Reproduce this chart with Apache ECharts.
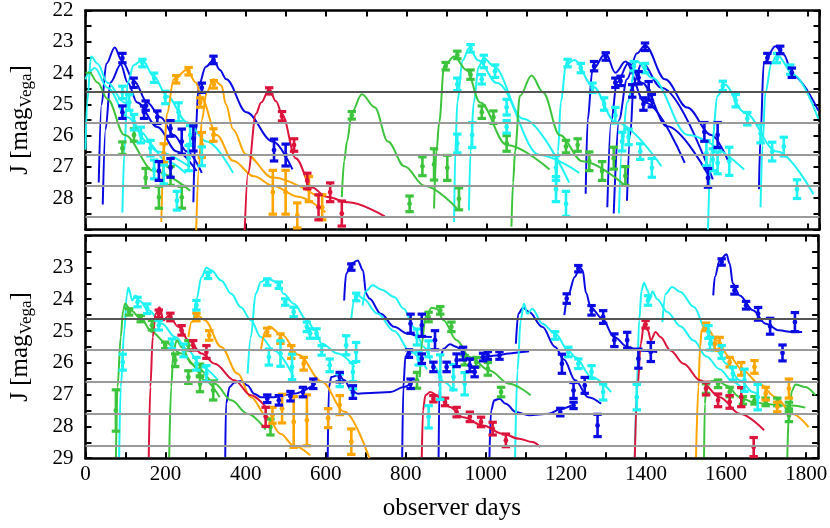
<!DOCTYPE html>
<html>
<head>
<meta charset="utf-8">
<script src="https://cdn.jsdelivr.net/npm/echarts@6/dist/echarts.min.js"></script>
<style>
  html, body { margin: 0; padding: 0; background: #fff; }
  #chart { width: 830px; height: 528px; }
</style>
</head>
<body>
<div id="chart"></div>
<script>
// colours of the five objects
const BLUE = '#0a0ae2', CYAN = '#1ef2f2', GREEN = '#3cc43c', ORANGE = '#ffa500', RED = '#dc143c';

// horizontal reference magnitudes
const refLines = [24.6, 25.6, 26.6, 27.6, 28.6];

// ---------- top panel: model light curves [day, mag] ----------
const topBlueCurves = [
  [[33,27.5],[40,25.0],[52,23.7],[73,23.18],[90,23.6],[121,24.25],[154,24.94],[187,25.41],[220,25.98],[253,26.51],[290,27.19]],
  [[43,28.2],[50,25.8],[62,24.3],[88,23.73],[105,24.3],[129,24.94],[179,25.72],[228,26.51],[277,27.13]],
  [[269,28.13],[274,26.0],[282,24.41],[300,23.8],[319,23.58],[335,23.9],[351,24.2],[401,25.25],[467,26.19],[516,27.08]],
  [[1247,27.86],[1252,25.5],[1264,23.89],[1297,23.37],[1321,23.99],[1346,23.63],[1395,24.94],[1494,26.87]],
  [[1301,28.29],[1310,25.6],[1325,24.3],[1354,23.68],[1387,24.31],[1450,25.7],[1552,27.24]],
  [[1317,28.49],[1330,25.5],[1350,24.2],[1375,23.37],[1395,23.11],[1445,24.2],[1500,25.1],[1560,25.98],[1601,26.77]],
  [[1350,28.08],[1358,26.0],[1367,24.31],[1387,23.68],[1436,24.47],[1564,27.4]],
  [[1679,27.71],[1683,26.0],[1691,23.68],[1720,23.14],[1740,23.4],[1765,24.1],[1827,25.2]]
];
const topCyanCurves = [
  [[0,26.45],[4,24.94],[14,23.47],[30,23.7],[55,24.31],[97,24.94],[138,25.88],[179,26.51],[260,27.0]],
  [[0,24.2],[10,23.95],[23,23.84],[55,24.47],[105,25.41],[154,26.2],[203,26.83],[250,27.2]],
  [[92,28.46],[97,26.5],[105,24.31],[120,23.75],[142,23.58],[170,24.1],[203,24.73],[253,25.57],[302,26.19],[368,27.19]],
  [[919,28.76],[922,26.5],[927,24.94],[940,23.6],[956,23.21],[980,23.6],[1025,24.31],[1132,26.62],[1231,27.19]],
  [[956,28.39],[960,26.5],[968,24.94],[980,23.8],[993,23.52],[1017,23.77],[1091,25.46],[1206,27.5]],
  [[1173,28.08],[1178,26.5],[1185,24.94],[1198,23.73],[1219,23.58],[1264,24.41],[1321,25.56],[1436,26.98]],
  [[1330,28.49],[1337,26.5],[1350,24.94],[1375,23.62],[1412,24.15],[1502,25.98],[1642,27.08]],
  [[1552,29.0],[1560,26.51],[1576,24.73],[1593,24.36],[1642,25.25],[1724,26.51],[1815,27.87]],
  [[1683,28.29],[1688,26.3],[1695,24.62],[1710,23.7],[1724,23.42],[1765,24.05],[1827,25.46]]
];
const topGreenCurves = [
  [[0,23.99],[10,23.99],[30,24.3],[55,24.83],[97,25.98],[171,27.13],[261,27.76]],
  [[639,27.97],[645,26.8],[652,26.19],[664,25.25],[689,24.68],[721,25.09],[754,26.19],[795,26.98],[845,27.6],[927,28.34]],
  [[869,28.33],[875,26.5],[882,25.56],[894,23.78],[919,23.47],[950,23.9],[984,24.94],[1050,26.3],[1157,27.08]],
  [[1062,28.91],[1066,27.5],[1071,26.51],[1083,24.73],[1112,24.08],[1141,24.62],[1182,25.98],[1239,26.82],[1346,27.6]]
];
const topOrangeCurves = [
  [[189,28.76],[196,26.5],[203,25.3],[220,24.2],[253,23.89],[275,24.3],[290,24.83],[327,25.98],[368,26.8],[420,27.3],[467,27.6],[530,27.95],[598,28.45]],
  [[276,29.02],[283,27.0],[290,25.5],[302,24.62],[319,24.2],[339,24.4],[350,25.0],[368,25.8],[400,26.6],[467,27.34],[581,27.97]]
];
const topRedCurves = [
  [[397,29.02],[405,27.2],[425,25.3],[438,24.94],[458,24.52],[475,24.9],[491,25.35],[524,26.72],[565,27.66],[600,27.95],[655,28.13],[746,28.58]]
];

// ---------- top panel: photometry [day, mag, error] ----------
const topBluePoints = [
  [92,23.52,0.15],[120,24.31,0.15],[150,25.04,0.15],[179,25.41,0.2],[212,25.77,0.25],[240,26.19,0.4],[269,26.09,0.4],
  [92,25.25,0.2],[146,25.25,0.2],[183,27.13,0.3],[212,27.03,0.3],[319,23.58,0.12],[290,24.47,0.15],[470,26.46,0.35],[499,26.62,0.35],
  [1268,23.78,0.15],[1297,23.47,0.12],[1321,24.31,0.15],[1334,24.25,0.15],[1363,24.57,0.2],[1379,24.15,0.2],[1395,23.16,0.12],
  [1391,24.99,0.2],[1404,24.57,0.3],[1412,24.88,0.2],[1543,25.88,0.3],[1576,25.98,0.4],[1552,27.35,0.3],
  [1700,23.52,0.15],[1732,23.26,0.12],[1761,23.99,0.15]
];
const topCyanPoints = [
  [92,24.62,0.2],[109,24.94,0.25],[142,23.68,0.12],[171,24.15,0.15],[199,24.78,0.2],[232,25.25,0.3],[121,25.57,0.25],
  [138,25.98,0.25],[162,26.4,0.25],[171,27.08,0.3],[195,27.24,0.3],[228,28.08,0.3],[257,26.72,0.4],[290,26.66,0.3],[261,25.98,0.3],
  [927,24.36,0.2],[927,26.25,0.3],[964,25.98,0.4],[960,23.21,0.12],[988,24.2,0.15],[993,23.63,0.2],[1021,23.94,0.2],
  [1050,25.09,0.25],[1050,25.72,0.2],[1173,27.03,0.4],[1173,27.71,0.4],[1198,28.18,0.4],[1202,23.68,0.12],[1235,23.84,0.15],
  [1264,24.47,0.15],[1293,24.99,0.2],[1321,25.35,0.25],[1338,26.19,0.3],[1354,26.04,0.25],[1367,23.78,0.15],[1395,23.84,0.15],
  [1383,26.51,0.25],[1412,27.03,0.3],[1548,26.56,0.4],[1564,26.77,0.35],[1576,26.87,0.35],[1605,26.82,0.45],[1589,24.41,0.15],
  [1621,24.88,0.2],[1650,25.46,0.2],[1683,25.93,0.3],[1712,26.51,0.3],[1741,26.35,0.3],[1774,27.71,0.3],[1724,23.52,0.15],[1757,23.89,0.15]
];
const topGreenPoints = [
  [92,26.4,0.2],[121,25.98,0.2],[150,27.35,0.3],[183,27.97,0.35],[212,27.29,0.3],[240,27.97,0.35],[664,25.35,0.12],
  [808,28.18,0.25],[840,26.98,0.3],[869,26.92,0.5],[902,27.03,0.4],[931,28.02,0.35],[898,23.78,0.12],[927,23.42,0.12],
  [960,24.05,0.15],[988,25.25,0.2],[1017,25.41,0.2],[1050,26.25,0.25],[1198,26.35,0.2],[1227,26.3,0.2],[1256,26.82,0.3],
  [1288,27.13,0.3],[1317,26.72,0.35],[1346,27.29,0.3]
];
const topOrangePoints = [
  [226,24.2,0.12],[257,23.94,0.12],[286,24.94,0.15],[290,26.3,0.4],[319,25.98,0.2],[320,24.36,0.12],[195,26.56,0.3],
  [467,27.81,0.7],[499,27.81,0.7],[528,28.55,0.4],[557,27.71,0.4],[590,28.29,0.4]
];
const topRedPoints = [
  [458,24.57,0.1],[490,25.38,0.15],[520,26.3,0.2],[553,27.45,0.25],[581,28.29,0.4],[610,27.81,0.3],[639,28.49,0.4]
];

// ---------- bottom panel: model light curves ----------
const botBlueCurves = [
  [[349,28.96],[351,27.29],[360,26.76],[372,26.62],[388,26.57],[405,26.71],[421,26.97],[438,27.08],[471,27.08],[520,26.97],[575,26.65]],
  [[605,28.96],[608,26.76],[614,26.45],[631,26.39],[647,26.55],[664,26.87],[680,26.97],[713,26.95],[762,26.92],[795,26.76],[812,26.66]],
  [[791,28.96],[794,26.76],[799,25.82],[808,25.62],[825,25.6]],
  [[646,24.04],[651,23.2],[664,22.88],[680,22.78],[693,23.09],[701,23.83],[709,23.98],[738,24.46],[771,24.87],[804,25.08],[836,25.17],[865,25.19]],
  [[882,28.96],[884,26.76],[887,25.82],[894,25.56],[910,25.42],[927,25.5],[943,25.66],[960,25.92],[993,25.82],[1025,25.77],[1058,25.71],[1091,25.66],[1108,25.64]],
  [[1009,28.96],[1013,27.5],[1021,27.18],[1034,27.13],[1050,27.29],[1075,27.55],[1108,27.65],[1157,27.6],[1190,27.44],[1214,27.34]],
  [[1075,25.4],[1081,24.46],[1093,24.27],[1108,24.4],[1141,24.87],[1173,25.5],[1195,25.9],[1223,26.55],[1256,27.08],[1288,27.29]],
  [[1196,24.5],[1206,23.85],[1222,23.3],[1235,23.0],[1242,23.1],[1250,23.8],[1262,24.25],[1290,24.6],[1321,25.2],[1354,25.5],[1387,25.62],[1428,25.66]],
  [[1568,23.88],[1572,23.3],[1584,22.78],[1601,22.59],[1609,22.88],[1617,23.51],[1634,23.88],[1667,24.35],[1699,24.77],[1732,24.98],[1765,25.03],[1790,25.03]]
];
const botCyanCurves = [
  [[84,28.96],[88,26.76],[97,24.98],[103,23.88],[107,23.64],[117,24.04],[125,23.88],[134,24.04],[158,24.35],[191,24.77],[224,25.19],[257,25.61],[290,26.13],[331,26.55]],
  [[270,24.7],[277,24.0],[290,23.3],[302,23.01],[314,23.09],[339,23.41],[364,23.83],[388,24.25],[413,24.66],[438,25.19],[471,25.61],[520,26.45]],
  [[405,26.34],[413,25.19],[425,23.83],[438,23.46],[454,23.35],[479,23.46],[495,23.83],[520,24.14],[553,24.66],[573,24.98],[590,25.4],[631,25.71],[672,26.13]],
  [[664,24.6],[672,24.0],[680,23.87],[693,23.98],[730,24.46],[771,25.0],[812,25.66],[853,26.2]],
  [[692,24.2],[700,23.75],[717,23.56],[740,23.7],[771,23.93],[795,24.3],[820,24.88],[845,25.5],[870,26.1],[895,26.6],[920,26.9]],
  [[1073,28.96],[1079,26.24],[1087,24.66],[1095,24.14],[1104,24.46],[1116,24.3],[1141,24.77],[1173,25.08],[1206,25.61],[1223,25.82],[1264,26.45],[1313,26.92]],
  [[1372,28.96],[1377,26.76],[1383,24.66],[1389,23.72],[1395,23.48],[1404,23.72],[1410,24.0],[1416,23.75],[1428,24.0],[1453,24.4],[1486,24.85],[1519,25.3],[1551,25.8],[1584,26.2],[1617,26.6],[1650,26.95]],
  [[1441,24.72],[1449,23.83],[1465,23.62],[1486,23.77],[1519,24.24],[1551,24.98],[1576,25.61],[1601,26.03],[1634,26.55],[1667,26.92],[1680,27.0]]
];
const botGreenCurves = [
  [[76,28.96],[80,26.76],[88,25.19],[94,24.35],[99,24.14],[113,24.35],[138,24.61],[166,25.03],[199,25.35],[240,25.71],[282,26.18],[323,26.66],[364,27.18],[405,27.6],[450,28.1]],
  [[209,28.96],[214,26.76],[220,25.61],[228,25.29],[240,25.5],[265,26.03],[298,26.55],[335,27.08]],
  [[835,26.45],[840,25.4],[849,24.56],[865,24.27],[877,24.3],[894,24.66],[927,25.29],[960,25.82],[1009,26.24],[1058,26.66],[1112,27.02]],
  [[1545,28.96],[1547,27.29],[1551,26.66],[1564,26.57],[1576,26.55],[1601,26.71],[1634,27.08],[1667,27.23],[1699,27.29],[1732,27.34],[1765,27.34],[1798,27.41]],
  [[1753,28.96],[1757,27.5],[1765,26.87],[1773,26.68],[1798,26.76],[1823,27.02]]
];
const botOrangeCurves = [
  [[257,25.19],[265,24.72],[277,24.48],[298,24.66],[339,25.5],[380,26.34],[413,27.08],[454,27.7],[487,28.23],[520,28.6],[561,28.91]],
  [[438,25.6],[450,25.0],[458,24.86],[491,25.12],[532,25.75],[590,26.59],[647,27.54],[709,29.0]],
  [[1525,28.96],[1531,26.76],[1535,25.5],[1539,24.98],[1545,24.85],[1556,24.98],[1576,25.29],[1609,25.82],[1642,26.24],[1683,26.66],[1724,27.08],[1765,27.6],[1806,28.02]]
];
const botRedCurves = [
  [[158,28.96],[162,26.76],[168,25.19],[175,24.46],[185,24.25],[195,24.66],[208,24.51],[232,24.87],[257,25.29],[290,25.71],[323,26.03],[372,26.55],[413,27.02],[450,27.39]],
  [[840,28.96],[843,27.5],[849,27.02],[861,26.92],[886,27.08],[910,27.39],[943,27.71],[993,27.97],[1042,28.23],[1083,28.39],[1116,28.49],[1136,28.65]],
  [[1372,28.96],[1379,26.76],[1387,25.4],[1395,24.77],[1405,24.98],[1412,25.29],[1424,25.03],[1436,25.19],[1461,25.61],[1494,26.03],[1535,26.55],[1584,27.08],[1634,27.6],[1695,28.12]]
];

// ---------- bottom panel: photometry ----------
const botBluePoints = [
  [454,27.13,0.12],[483,27.18,0.15],[512,27.05,0.15],[543,26.92,0.15],[569,26.66,0.15],[635,26.45,0.15],[668,26.92,0.2],[664,22.99,0.1],
  [812,24.77,0.3],[840,24.82,0.35],[873,25.29,0.3],[808,25.71,0.12],[840,25.87,0.15],[869,26.13,0.15],[812,26.66,0.15],[902,26.13,0.15],
  [927,25.92,0.2],[943,25.71,0.2],[960,26.08,0.2],[972,26.29,0.15],[993,25.82,0.12],[1005,25.77,0.12],[1034,25.77,0.12],[1186,27.55,0.12],
  [1190,26.03,0.3],[1202,23.98,0.15],[1231,23.04,0.1],[1264,24.35,0.15],[1293,24.56,0.2],[1321,25.29,0.2],[1353,25.29,0.25],[1381,25.87,0.3],
  [1412,25.66,0.3],[1219,26.87,0.25],[1247,26.71,0.25],[1219,27.34,0.1],[1279,27.97,0.35],[1589,22.83,0.1],[1621,23.72,0.12],[1650,24.19,0.12],
  [1680,24.46,0.2],[1710,24.85,0.25],[1772,24.72,0.3],[1741,25.69,0.25]
];
const botCyanPoints = [
  [93,25.98,0.25],[130,24.09,0.15],[154,24.3,0.15],[183,24.82,0.15],[216,25.4,0.15],[245,25.61,0.2],[277,24.19,0.15],[306,23.25,0.1],
  [277,26.03,0.2],[302,26.34,0.25],[454,23.46,0.1],[483,23.56,0.1],[499,24.09,0.1],[520,24.4,0.15],[553,24.87,0.15],[561,25.08,0.15],
  [458,25.82,0.25],[487,25.71,0.4],[516,26.13,0.4],[577,25.08,0.15],[590,25.61,0.15],[610,26.08,0.2],[635,26.55,0.2],[668,26.29,0.3],
  [668,26.97,0.15],[651,25.45,0.3],[676,25.66,0.3],[676,23.93,0.12],[828,25.19,0.25],[857,25.56,0.25],[832,25.87,0.2],[886,26.45,0.7],
  [919,26.45,0.4],[947,26.66,0.35],[857,27.7,0.35],[1173,25.14,0.12],[1206,25.66,0.15],[1231,26.03,0.15],[1264,26.29,0.2],[1293,26.92,0.25],
  [1377,27.08,0.4],[1405,24.04,0.15],[1556,25.03,0.2],[1560,25.4,0.2],[1589,25.66,0.2],[1617,26.34,0.2],[1646,26.55,0.35],[1679,27.08,0.4]
];
const botGreenPoints = [
  [76,27.5,0.65],[109,24.4,0.1],[138,24.61,0.1],[166,24.82,0.15],[199,25.45,0.1],[224,25.92,0.2],[257,26.45,0.2],[286,26.24,0.2],
  [286,26.66,0.25],[319,26.87,0.3],[257,25.45,0.15],[462,28.02,0.25],[857,24.56,0.15],[886,24.35,0.12],[914,24.87,0.15],[947,25.92,0.15],
  [976,25.98,0.15],[1005,26.19,0.2],[828,26.55,0.25],[1038,26.92,0.15],[1550,26.81,0.15],[1580,26.66,0.12],[1609,26.92,0.15],
  [1642,27.18,0.12],[1671,27.18,0.12],[1699,27.23,0.12],[1728,27.23,0.12],[1757,27.39,0.15],[1757,27.65,0.2]
];
const botOrangePoints = [
  [277,24.56,0.12],[309,25.14,0.15],[454,25.03,0.12],[487,25.24,0.15],[514,25.66,0.2],[545,26.03,0.2],[467,27.65,0.25],[491,27.44,0.45],
  [520,27.86,0.8],[553,27.81,0.8],[606,27.74,0.3],[635,27.33,0.3],[664,28.48,0.4],[1550,24.87,0.12],[1572,25.4,0.2],[1584,25.4,0.2],
  [1609,25.98,0.15],[1638,26.19,0.2],[1671,26.13,0.2],[1699,26.97,0.2],[1728,27.39,0.15],[1757,26.81,0.3]
];
const botRedPoints = [
  [183,24.46,0.12],[212,24.56,0.12],[240,24.98,0.15],[269,25.45,0.15],[302,25.66,0.2],[450,27.7,0.3],[869,27.13,0.1],[898,27.23,0.12],
  [927,27.55,0.15],[960,27.7,0.15],[988,27.86,0.15],[1017,28.07,0.2],[1050,28.44,0.2],[1399,24.79,0.12],[1550,26.81,0.2],[1580,27.18,0.2],
  [1609,27.23,0.2],[1638,27.08,0.3],[1669,28.65,0.3]
];

const FONT = '"Liberation Serif", "DejaVu Serif", serif';
const numStyle = { n: { fontFamily: FONT, fontSize: 21, color: '#000' } };

function curveSeries(list, color, panel) {
  return list.map(d => ({
    type: 'line', xAxisIndex: panel * 2, yAxisIndex: panel * 2,
    data: d, showSymbol: false, smooth: 0.35, smoothMonotone: 'x',
    lineStyle: { color: color, width: 2 }, z: 2, silent: true
  }));
}

function renderErr(params, api) {
  const x = api.value(0), y = api.value(1), e = api.value(2);
  const p = api.coord([x, y]);
  const t = api.coord([x, y - e]);
  const b = api.coord([x, y + e]);
  const c = api.visual('color');
  return {
    type: 'group',
    children: [
      { type: 'line', shape: { x1: p[0], y1: t[1], x2: p[0], y2: b[1] }, style: { stroke: c, lineWidth: 2.6 } },
      { type: 'rect', shape: { x: p[0] - 4.2, y: t[1] - 1.6, width: 8.4, height: 3.2 }, style: { fill: c } },
      { type: 'rect', shape: { x: p[0] - 4.2, y: b[1] - 1.6, width: 8.4, height: 3.2 }, style: { fill: c } },
      { type: 'circle', shape: { cx: p[0], cy: p[1], r: 2.4 }, style: { fill: c } }
    ]
  };
}

function pointSeries(pts, color, panel) {
  return {
    type: 'custom', xAxisIndex: panel * 2, yAxisIndex: panel * 2,
    data: pts, renderItem: renderErr, itemStyle: { color: color },
    encode: { x: 0, y: 1 }, z: 3, silent: true, clip: false
  };
}

function refSeries(panel) {
  return {
    type: 'line', xAxisIndex: panel * 2, yAxisIndex: panel * 2,
    data: [], z: 1, silent: true,
    markLine: {
      silent: true, symbol: 'none', label: { show: false }, animation: false,
      data: refLines.map(v => ({ yAxis: v, lineStyle: { color: v === 24.6 ? '#555' : '#9a9a9a', width: 2, type: 'solid' } }))
    }
  };
}

const frame = { onZero: false, lineStyle: { color: '#000', width: 2.6 } };
const ticks = { inside: true, length: 6, lineStyle: { color: '#000', width: 2 } };

function xAxis(grid, pos, labels) {
  return {
    type: 'value', gridIndex: grid, position: pos, min: 0, max: 1830, interval: 100,
    axisLine: frame, axisTick: ticks, splitLine: { show: false },
    axisLabel: {
      show: labels, margin: 6, color: '#000', fontFamily: FONT, fontSize: 21, rich: numStyle,
      formatter: v => (v % 200 === 0 ? '{n|' + v + '}' : ''), showMaxLabel: false
    },
    name: labels ? 'observer days' : '', nameLocation: 'middle', nameGap: 38,
    nameTextStyle: { fontFamily: FONT, fontSize: 25, color: '#000' }
  };
}

function yAxis(grid, pos, hide, named) {
  return {
    type: 'value', gridIndex: grid, position: pos, min: 22, max: 29, interval: 0.5, inverse: true,
    axisLine: frame, axisTick: ticks, splitLine: { show: false },
    axisLabel: {
      show: pos === 'left', margin: 12, color: '#000', fontFamily: FONT, fontSize: 21, rich: numStyle,
      formatter: v => (Number.isInteger(v) && v !== hide ? '{n|' + v + '}' : '')
    },
    name: named ? '{t|J [mag}{s|Vega}{t|]}' : '', nameLocation: 'middle', nameRotate: 90, nameGap: 50,
    nameTextStyle: {
      color: '#000',
      rich: {
        t: { fontFamily: FONT, fontSize: 25, color: '#000', lineHeight: 30, verticalAlign: 'middle' },
        s: { fontFamily: FONT, fontSize: 17, color: '#000', verticalAlign: 'bottom', lineHeight: 18 }
      }
    }
  };
}

const series = [].concat(
  refSeries(0), refSeries(1),
  curveSeries(topBlueCurves, BLUE, 0), curveSeries(topCyanCurves, CYAN, 0), curveSeries(topGreenCurves, GREEN, 0),
  curveSeries(topOrangeCurves, ORANGE, 0), curveSeries(topRedCurves, RED, 0),
  curveSeries(botBlueCurves, BLUE, 1), curveSeries(botCyanCurves, CYAN, 1), curveSeries(botGreenCurves, GREEN, 1),
  curveSeries(botOrangeCurves, ORANGE, 1), curveSeries(botRedCurves, RED, 1),
  pointSeries(topGreenPoints, GREEN, 0), pointSeries(topOrangePoints, ORANGE, 0), pointSeries(topRedPoints, RED, 0),
  pointSeries(topCyanPoints, CYAN, 0), pointSeries(topBluePoints, BLUE, 0),
  pointSeries(botGreenPoints, GREEN, 1), pointSeries(botOrangePoints, ORANGE, 1), pointSeries(botRedPoints, RED, 1),
  pointSeries(botCyanPoints, CYAN, 1), pointSeries(botBluePoints, BLUE, 1)
);

const chart = echarts.init(document.getElementById('chart'));
chart.setOption({
  animation: false,
  backgroundColor: '#fff',
  textStyle: { fontFamily: FONT, color: '#000' },
  grid: [
    { left: 77.5, right: 10.5, top: 6.5, height: 223 },
    { left: 77.5, right: 10.5, top: 235.6, height: 222.6 }
  ],
  xAxis: [xAxis(0, 'bottom', false), xAxis(0, 'top', false), xAxis(1, 'bottom', true), xAxis(1, 'top', false)],
  yAxis: [yAxis(0, 'left', 29, true), yAxis(0, 'right', 29, false), yAxis(1, 'left', 22, true), yAxis(1, 'right', 22, false)],
  series: series
});
</script>
</body>
</html>
